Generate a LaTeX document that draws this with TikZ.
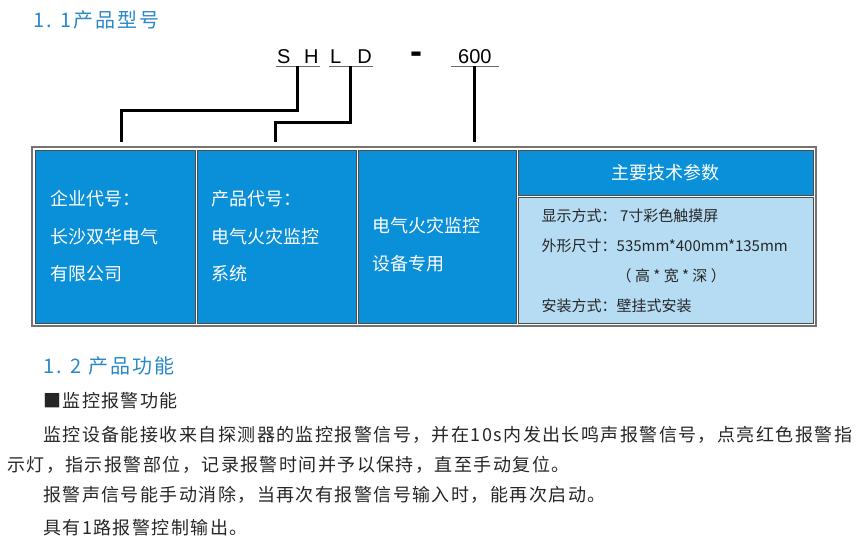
\documentclass[tikz,border=0pt]{standalone}
\usepackage{fontspec}
\setmainfont{Noto Sans CJK SC}
\newfontfamily\latinfont{Liberation Sans}
\newfontfamily\latinbold{Liberation Sans Bold}
\newfontfamily\headfont[LetterSpace=10]{Noto Sans CJK SC}
\newfontfamily\bodyfont[LetterSpace=8]{Noto Sans CJK SC}
\usetikzlibrary{calc}
\definecolor{titleblue}{HTML}{2A88C9}
\definecolor{cellblue}{HTML}{0A8FD9}
\definecolor{speclight}{HTML}{B6DCF4}
\tikzset{
  lead/.style={line width=3pt},
  cell/.style={draw=black!70,line width=1pt,fill=cellblue,inner sep=0pt},
  celltext/.style={text=white,anchor=west,align=left,inner sep=0pt,
    font=\fontsize{18}{37.5}\selectfont},
  heading/.style={text=titleblue,anchor=base west,inner sep=0pt,
    font=\headfont\fontsize{20}{20}\selectfont},
  para/.style={text=black!85,anchor=base west,inner sep=0pt,
    font=\bodyfont\fontsize{18}{18}\selectfont},
  code/.style={anchor=base west,inner xsep=1pt,inner ysep=3pt,
    font=\latinfont\fontsize{20}{20}\selectfont},
}
\begin{document}
\begin{tikzpicture}[x=1pt,y=-1pt]
  \useasboundingbox (0,0) rectangle (860,539);
  \node[heading] (title1) at (33,27) {1. 1产品型号};

  \node[code] (sh) at (276,63) {S\hspace{13.5pt}H};
  \node[code] (ld) at (329,63) {L\hspace{16pt}D};
  \node[code,font=\latinbold\fontsize{36}{36}\selectfont] (dash) at (409,63) {-};
  \node[code,inner xsep=7pt] (six) at (451,63) {600};
  \foreach \c in {sh,ld,six}
    \draw[black!60,line width=1pt] (\c.south west) -- (\c.south east);

  \node[draw=black!55,line width=1.5pt,minimum width=784,minimum height=179] (frame) at (424,236.5) {};
  \node[cell,minimum width=160,minimum height=173] (b1) at (115,236.5) {};
  \node[cell,minimum width=159,minimum height=173] (b2) at (276.5,236.5) {};
  \node[cell,minimum width=158,minimum height=173] (b3) at (437,236.5) {};
  \node[cell,minimum width=295,minimum height=45] (hd) at (665.5,172.5) {};
  \node[cell,fill=speclight,minimum width=295,minimum height=126] (spec) at (665.5,260) {};

  \node[celltext] (corp) at ($(b1.west)+(16,0)$) {企业代号：\\长沙双华电气\\有限公司};
  \node[celltext] (prod) at ($(b2.west)+(15,0)$) {产品代号：\\电气火灾监控\\系统};
  \node[celltext] (use) at ($(b3.west)+(15,8)$) {电气火灾监控\\设备专用};
  \node[celltext,anchor=center] (hdtext) at (hd) {主要技术参数};
  \node[celltext,text=black!85,font=\fontsize{15}{30}\selectfont] (spectext) at ($(spec.west)+(24,1)$)
    {显示方式： 7寸彩色触摸屏\\外形尺寸：535mm*400mm*135mm\\\hspace*{75pt}（ 高 * 宽 * 深 ）\\安装方式：壁挂式安装};

  \coordinate (k1) at (121,110);
  \coordinate (k2) at (275,122);
  \draw[lead,shorten >=4pt] (sh.south) |- (k1) -- (k1 |- frame.north);
  \draw[lead,shorten >=4pt] (ld.south) |- (k2) -- (k2 |- frame.north);
  \draw[lead,shorten >=4pt] (six.south) -- (six.south |- frame.north);

  \node[heading] (title2) at (43,373) {1. 2 产品功能};
  \node[para] (mark) at (43,407) {■监控报警功能};
  \foreach \n/\x/\y/\t in {1/43/441/{监控设备能接收来自探测器的监控报警信号，并在10s内发出长鸣声报警信号，点亮红色报警指},
      2/7/471/{示灯，指示报警部位，记录报警时间并予以保持，直至手动复位。},
      3/43/501/{报警声信号能手动消除，当再次有报警信号输入时，能再次启动。},
      4/43/534/{具有1路报警控制输出。}}
    \node[para] (p\n) at (\x,\y) {\t};
\end{tikzpicture}
\end{document}
